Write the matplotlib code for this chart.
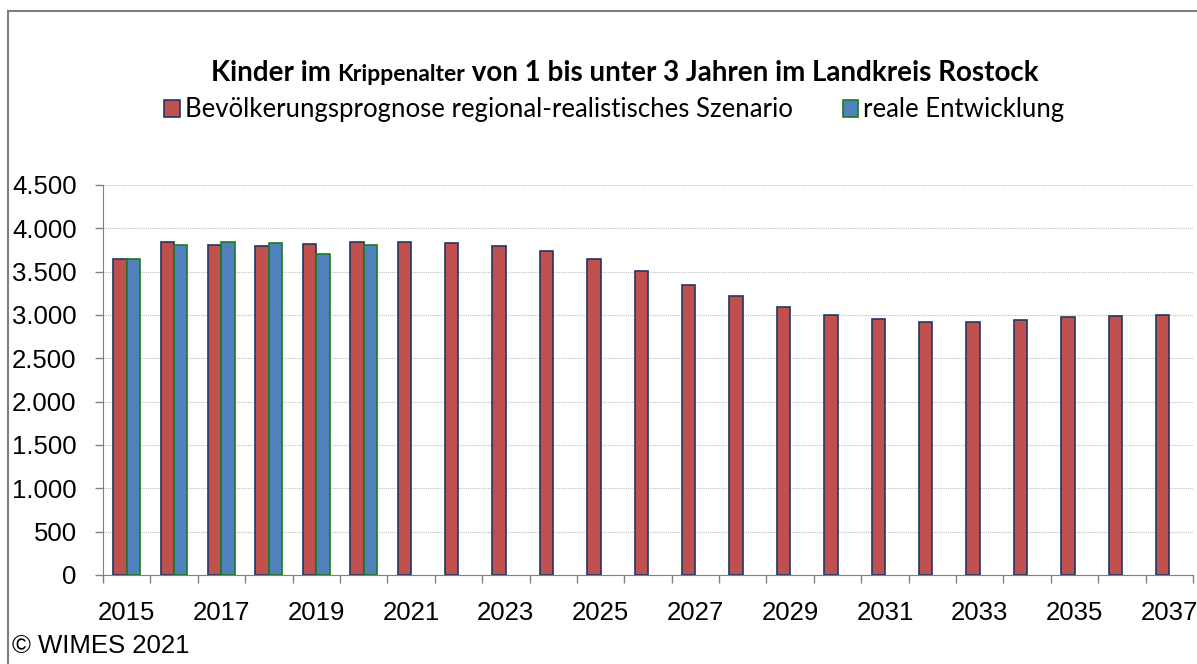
import matplotlib.pyplot as plt
import numpy as np

years = [2015, 2016, 2017, 2018, 2019, 2020, 2021, 2022, 2023, 2024, 2025, 2026,
         2027, 2028, 2029, 2030, 2031, 2032, 2033, 2034, 2035, 2036, 2037]
prognose = [3646, 3838, 3811, 3800, 3822, 3845, 3845, 3830, 3796, 3734, 3642, 3512,
            3350, 3220, 3096, 3003, 2949, 2922, 2922, 2942, 2980, 2992, 3003]
real = [3646, 3811, 3838, 3830, 3703, 3804]

yticks = [0, 500, 1000, 1500, 2000, 2500, 3000, 3500, 4000, 4500]

W, H = 1197, 664


def main():
    fig = plt.figure(figsize=(W / 100, H / 100), dpi=100)
    ax = fig.add_axes([103 / W, 1 - 575 / H, 1090 / W, 390 / H])

    x = np.arange(len(years))
    bw = 0.283
    red = ax.bar(x - bw / 2, prognose, bw, color='#C0504D', edgecolor='#1F3864', linewidth=1.2,
                 label='Bevölkerungsprognose regional-realistisches Szenario')
    blue = ax.bar(x[:len(real)] + bw / 2, real, bw, color='#4F81BD', edgecolor='#1E7A1E', linewidth=1.2,
                  label='reale Entwicklung')

    ax.set_xlim(-0.5, len(years) - 0.5)
    ax.set_ylim(0, 4500)
    ax.set_yticks(yticks)
    ax.set_yticklabels([f"{v:,}".replace(',', '.') for v in yticks], fontfamily='Liberation Sans', fontsize=18.5)
    ax.set_xticks(x[::2])
    ax.set_xticklabels([str(y) for y in years[::2]], fontfamily='Liberation Sans', fontsize=18.5)
    ax.set_xticks(np.arange(-0.5, len(years)), minor=True)
    ax.tick_params(axis='x', which='major', length=0, pad=19)
    ax.tick_params(axis='x', which='minor', length=6, color='#808080', width=1)
    ax.tick_params(axis='y', length=6, color='#808080', width=1, pad=13)
    ax.yaxis.grid(True, linestyle=(0, (1, 1)), color='#BFBFBF', linewidth=0.8)
    ax.set_axisbelow(True)
    for s in ['top', 'right']:
        ax.spines[s].set_visible(False)
    for s in ['left', 'bottom']:
        ax.spines[s].set_color('#808080')

    # outer frame (only top and left are visible in the original)
    fig.add_artist(plt.Line2D([8 / W, 8 / W], [0, 1 - 11 / H], transform=fig.transFigure,
                              color='#7F7F7F', linewidth=1.5))
    fig.add_artist(plt.Line2D([8 / W, 1], [1 - 11 / H, 1 - 11 / H], transform=fig.transFigure,
                              color='#7F7F7F', linewidth=1.5))

    # title with smaller "Krippenalter"
    parts = [("Kinder im ", 20), ("Krippenalter", 16.5), (" von 1 bis unter 3 Jahren im Landkreis Rostock", 20)]
    r = fig.canvas.get_renderer()
    texts = []
    for s, fs in parts:
        t = fig.text(0, 1 - 81 / H, s, fontfamily='Lato', fontweight='bold', fontsize=fs, va='baseline')
        texts.append(t)
    widths = [t.get_window_extent(r).width for t in texts]
    xpos = 625 - sum(widths) / 2
    for t, wd in zip(texts, widths):
        t.set_x(xpos / W)
        xpos += wd

    fig.legend(handles=[red, blue], loc='center', bbox_to_anchor=(614.5 / W, 1 - 110 / H), ncol=2,
               frameon=False, prop={'family': 'Lato', 'size': 18.5}, handlelength=0.6, handleheight=0.6,
               handletextpad=0.2, columnspacing=1.95)

    fig.text(12 / W, 1 - 646 / H, '© WIMES 2021', fontfamily='Liberation Sans', fontsize=18.5, va='center')

    fig.savefig('out.png', dpi=100)


if __name__ == '__main__':
    main()
